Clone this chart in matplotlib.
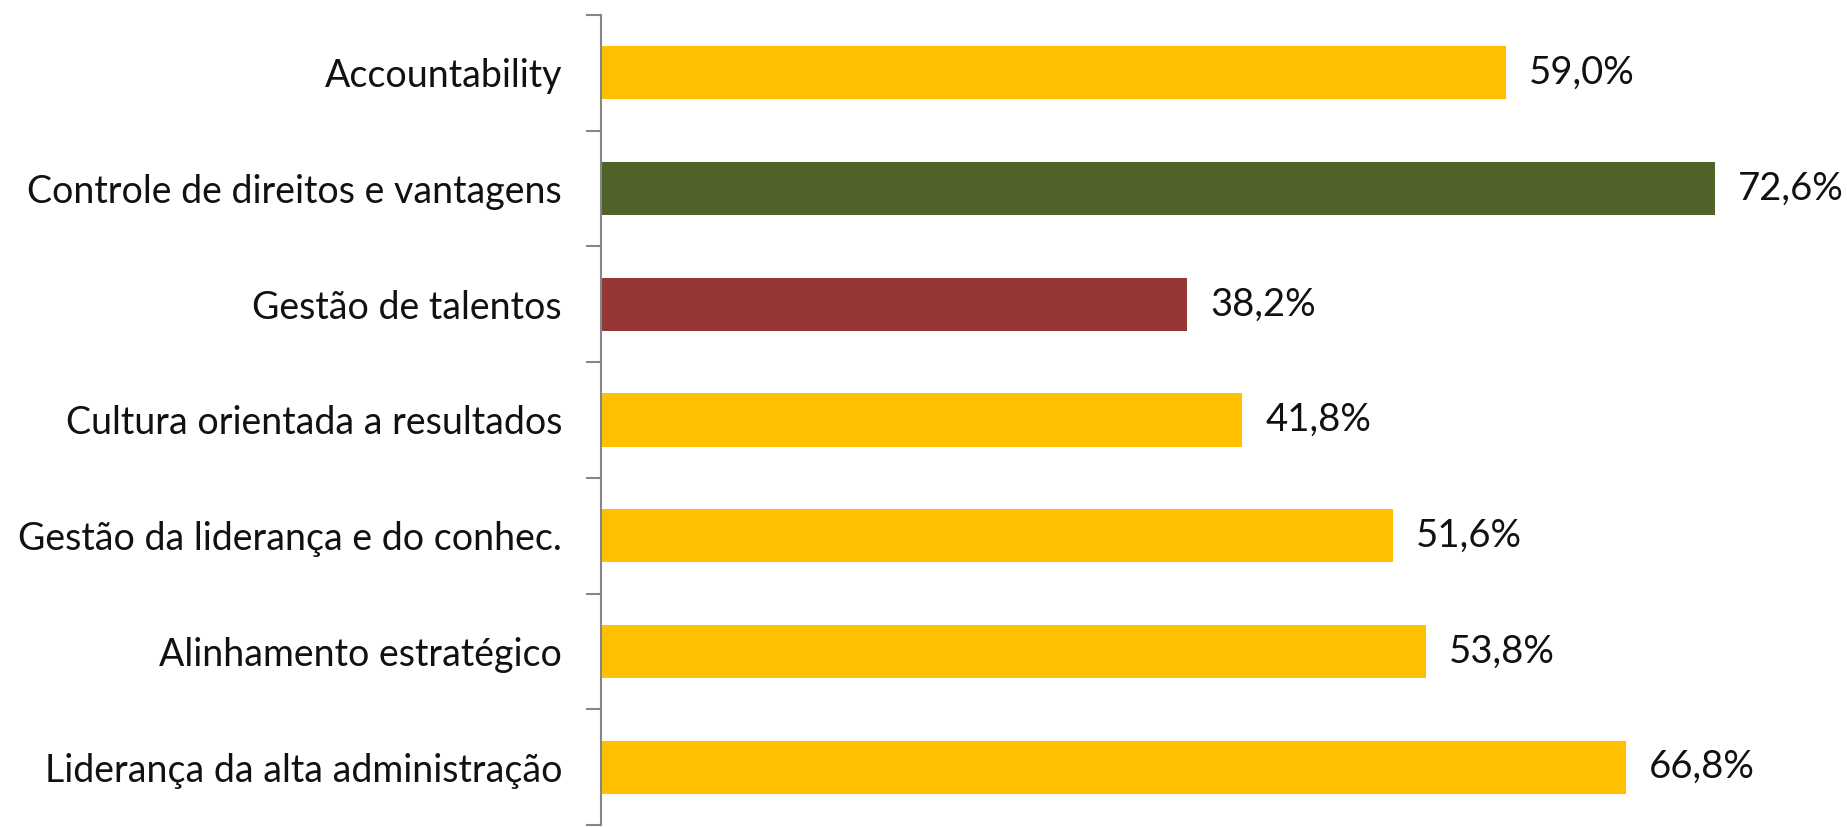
import matplotlib
matplotlib.use("Agg")
import matplotlib.pyplot as plt
import numpy as np

# Indicator categories (top to bottom) and their scores in percent
categories = [
    "Accountability",
    "Controle de direitos e vantagens",
    "Gestão de talentos",
    "Cultura orientada a resultados",
    "Gestão da liderança e do conhec.",
    "Alinhamento estratégico",
    "Liderança da alta administração",
]
values = [59.0, 72.6, 38.2, 41.8, 51.6, 53.8, 66.8]
bar_colors = ["#FFC000", "#4F6228", "#953735", "#FFC000", "#FFC000", "#FFC000", "#FFC000"]
value_labels = [f"{v:.1f}%".replace(".", ",") for v in values]

plt.rcParams["font.family"] = ["Lato", "DejaVu Sans"]

W, H, DPI = 1847, 827, 100
fig = plt.figure(figsize=(W / DPI, H / DPI), dpi=DPI)
fig.patch.set_facecolor("white")

ax_left = 601 / W
ax_top = 1 - 15 / H
ax_bottom = 1 - 825 / H
ax = fig.add_axes([ax_left, ax_bottom, 1 - ax_left, ax_top - ax_bottom])

y = np.arange(len(categories))
bars = ax.barh(y, values, height=0.46, color=bar_colors, edgecolor="none", zorder=2)

ax.set_xlim(0, (W - 601) / 15.34)
ax.set_ylim(len(categories) - 0.5, -0.5)

# Category labels at bar centres, tick marks at category boundaries
ax.set_yticks(y)
ax.set_yticklabels(categories, fontsize=27, color="#111111")
ax.tick_params(axis="y", which="major", length=0, pad=28)
ax.set_yticks(np.arange(len(categories) + 1) - 0.5, minor=True)
ax.tick_params(axis="y", which="minor", length=10.8, width=1.5, color="#868686", direction="out")

ax.set_xticks([])
for side in ("top", "right", "bottom"):
    ax.spines[side].set_visible(False)
ax.spines["left"].set_color("#868686")
ax.spines["left"].set_linewidth(1.5)

ax.bar_label(bars, labels=value_labels, padding=16.5, fontsize=27.5, color="#111111")

fig.savefig("out.png", dpi=DPI, facecolor="white")
